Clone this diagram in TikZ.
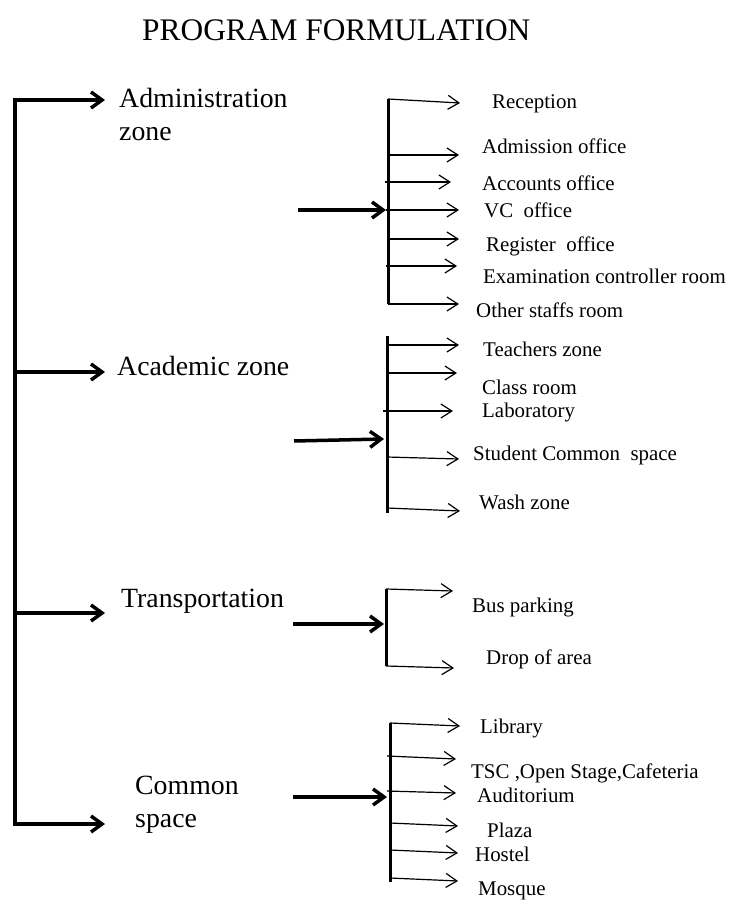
\documentclass[tikz,border=0pt]{standalone}
\usepackage{fontspec}
\setmainfont{Liberation Serif}
\usetikzlibrary{arrows.meta,calc}

\begin{document}
\begin{tikzpicture}[x=1pt, y=-1pt,
  ttl/.style={inner sep=0pt, anchor=base west, font=\fontsize{31.4}{36}\selectfont},
  zn/.style={inner sep=0pt, anchor=base west, align=left, font=\fontsize{27.8}{33}\selectfont},
  it/.style={inner sep=0pt, anchor=base west, font=\fontsize{20.9}{24}\selectfont},
  ar/.style={-{Straight Barb[length=11pt,width=16pt]}, line width=3.5pt},
  br/.style={-{Straight Barb[length=11pt,width=14pt]}, line width=1.2pt},
  bar/.style={line width=3pt}]

\useasboundingbox (0,0) rectangle (738,910);

%% ---- TITLE ----
\node[ttl] (TTL) at (142,40) {PROGRAM FORMULATION};

%% ---- ZONES (left column) ----
%% (two-line labels: base is on their last line)
\node[zn] (ADM) at (119,140) {Administration\\zone};
\node[zn] (ACA) at (117,375) {Academic zone};
\node[zn] (TRA) at (121,607) {Transportation};
\node[zn] (COM) at (135,827) {Common\\space};

%% spine
\coordinate (SPa) at (15,100);  \coordinate (SEa) at (105,100);
\coordinate (SPb) at (15,372);  \coordinate (SEb) at (105,372);
\coordinate (SPc) at (15,613);  \coordinate (SEc) at (105,613);
\coordinate (SPd) at (15,824);  \coordinate (SEd) at (105,824);
\draw[bar, line width=3.5pt] ($(SPa)+(0,-1.75)$) -- ($(SPd)+(0,1.75)$);
\draw[ar] (SPa) -- (SEa);
\draw[ar] (SPb) -- (SEb);
\draw[ar] (SPc) -- (SEc);
\draw[ar] (SPd) -- (SEd);

%% ---- ADMINISTRATION ----
\node[it] (REC)  at (492,108) {Reception};
\node[it] (ADMO) at (482,153) {Admission office};
\node[it] (ACCO) at (482,190) {Accounts office};
\node[it] (VCO)  at (484,217) {VC\ \ office};
\node[it] (REGO) at (486,251) {Register\ \ office};
\node[it] (EXAM) at (483,283) {Examination controller room};
\node[it] (OSTF) at (476,317) {Other staffs room};

\coordinate (AIN) at (298,210);  \coordinate (AMD) at (386,210);
\coordinate (ABt) at (388,99);   \coordinate (ABb) at (388,304);
\coordinate (ATa) at (460,103);
\coordinate (ABc) at (385,182);  \coordinate (ATc) at (451,182);
\coordinate (ABd) at (388,155);  \coordinate (ATd) at (459,155);
\coordinate (ATe) at (459,210);
\coordinate (ABf) at (388,239);  \coordinate (ATf) at (459,239);
\coordinate (ABg) at (386,266);  \coordinate (ATg) at (457,266);
\coordinate (ATh) at (459,304);

\draw[bar] (ABt) -- (ABb);
\draw[ar] (AIN) -- (AMD);
\draw[br] (ABt) -- (ATa);
\draw[br] (ABd) -- (ATd);
\draw[br] (ABc) -- (ATc);
\draw[br] (AMD) -- (ATe);
\draw[br] (ABf) -- (ATf);
\draw[br] (ABg) -- (ATg);
\draw[br] (ABb) -- (ATh);

%% ---- ACADEMIC ----
\node[it] (TCH) at (483,356) {Teachers zone};
\node[it] (CLS) at (482,394) {Class room};
\node[it] (LAB) at (482,417) {Laboratory};
\node[it] (SCS) at (473,460) {Student Common\ \ space};
\node[it] (WSH) at (479,509) {Wash zone};

\coordinate (CIN) at (294,441);  \coordinate (CMD) at (384,439);
\coordinate (CBt) at (387,336);  \coordinate (CBb) at (387,513);
\coordinate (CBa) at (387,345);  \coordinate (CTa) at (459,345);
\coordinate (CBc) at (387,373);  \coordinate (CTc) at (457,373);
\coordinate (CBd) at (383,411);  \coordinate (CTd) at (453,411);
\coordinate (CBe) at (387,457);  \coordinate (CTe) at (459,459);
\coordinate (CBf) at (387,508);  \coordinate (CTf) at (460,511);

\draw[bar] (CBt) -- (CBb);
\draw[ar] (CIN) -- (CMD);
\draw[br] (CBa) -- (CTa);
\draw[br] (CBc) -- (CTc);
\draw[br] (CBd) -- (CTd);
\draw[br] (CBe) -- (CTe);
\draw[br] (CBf) -- (CTf);

%% ---- TRANSPORTATION ----
\node[it] (BUS) at (472,612) {Bus parking};
\node[it] (DRP) at (486,664) {Drop of area};

\coordinate (TIN) at (293,624);  \coordinate (TMD) at (384,624);
\coordinate (TBt) at (386,589);  \coordinate (TBb) at (386,666);
\coordinate (TTa) at (453,591);  \coordinate (TTb) at (454,668);

\draw[bar] (TBt) -- (TBb);
\draw[ar] (TIN) -- (TMD);
\draw[br] (TBt) -- (TTa);
\draw[br] (TBb) -- (TTb);

%% ---- COMMON SPACE ----
\node[it] (LIB) at (480,733) {Library};
\node[it] (TSC) at (471,778) {TSC ,Open Stage,Cafeteria};
\node[it] (AUD) at (477,802) {Auditorium};
\node[it] (PLZ) at (487,837) {Plaza};
\node[it] (HST) at (475,861) {Hostel};
\node[it] (MSQ) at (478,895) {Mosque};

\coordinate (MIN) at (293,797);  \coordinate (MMD) at (387,797);
\coordinate (MBt) at (390,723);  \coordinate (MBb) at (390,882);
\coordinate (MTa) at (460,726);
\coordinate (MBb1) at (387,756); \coordinate (MTb) at (456,759);
\coordinate (MBc) at (387,791);  \coordinate (MTc) at (456,793);
\coordinate (MBd) at (390,823);  \coordinate (MTd) at (458,826);
\coordinate (MBe) at (390,850);  \coordinate (MTe) at (458,853);
\coordinate (MBf) at (390,878);  \coordinate (MTf) at (458,881);

\draw[bar] (MBt) -- (MBb);
\draw[ar] (MIN) -- (MMD);
\draw[br] (MBt) -- (MTa);
\draw[br] (MBb1) -- (MTb);
\draw[br] (MBc) -- (MTc);
\draw[br] (MBd) -- (MTd);
\draw[br] (MBe) -- (MTe);
\draw[br] (MBf) -- (MTf);
\end{tikzpicture}
\end{document}
